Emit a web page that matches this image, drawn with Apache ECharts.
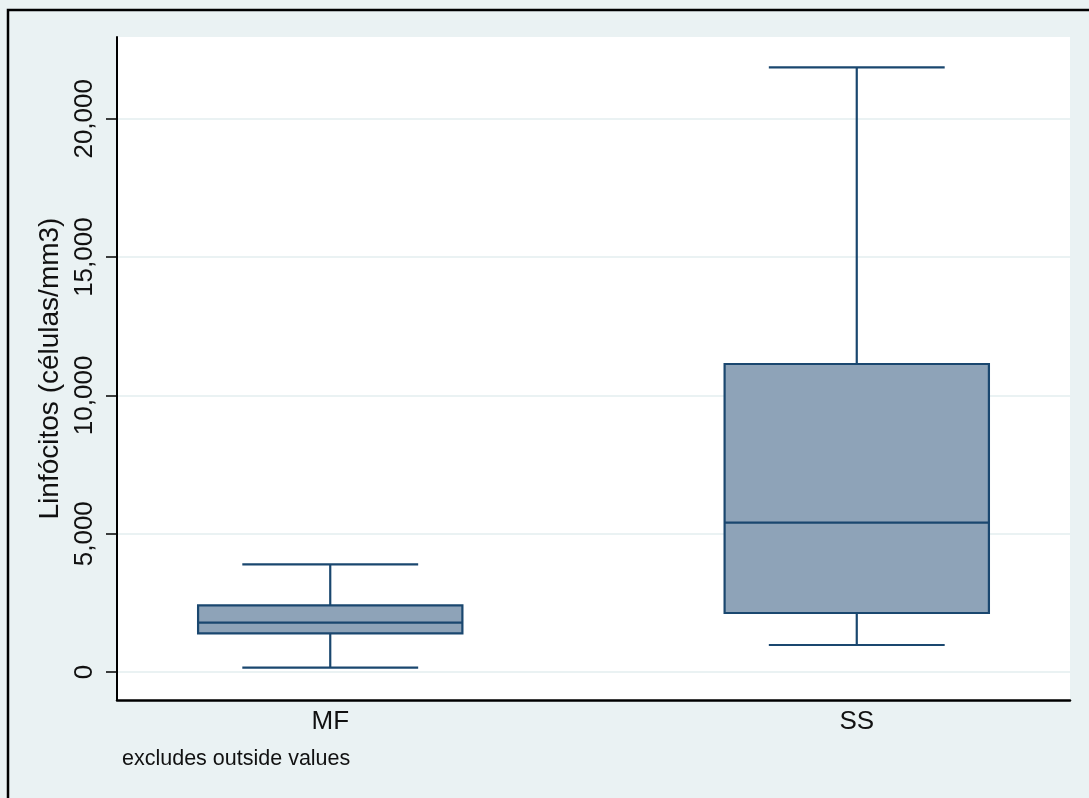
<!DOCTYPE html>
<html>
<head>
<meta charset="utf-8">
<title>Linfócitos por grupo</title>
<script src="https://cdn.jsdelivr.net/npm/echarts@6/dist/echarts.min.js"></script>
<style>
  html, body { margin: 0; padding: 0; background: #eaf2f3; }
  #chart { width: 1089px; height: 798px; }
</style>
</head>
<body>
<div id="chart"></div>
<script>
// Groups and the five-number summaries of each box (outside values excluded)
const groups = ['MF', 'SS'];
const whiskerLow = [155, 976];
const quartile1 = [1399, 2133];
const median = [1783, 5398];
const quartile3 = [2411, 11135];
const whiskerHigh = [3894, 21862];

// Y-axis tick values
const yTicks = [0, 5000, 10000, 15000, 20000];

const FONT = 'Helvetica, Arial, "Liberation Sans", sans-serif';
const NAVY = '#1a476f';
const BOX_FILL = '#8ea3b8';
const BOX_HALF = 0.251;   // half box width, in x-axis units
const CAP_HALF = 0.167;   // half whisker-cap width, in x-axis units

const boxData = groups.map((g, i) => [
  i + 1, whiskerLow[i], quartile1[i], median[i], quartile3[i], whiskerHigh[i]
]);

function renderBox(params, api) {
  const x = api.value(0);
  const lo = api.coord([x, api.value(1)]);
  const q1 = api.coord([x, api.value(2)]);
  const md = api.coord([x, api.value(3)]);
  const q3 = api.coord([x, api.value(4)]);
  const hi = api.coord([x, api.value(5)]);
  const bl = api.coord([x - BOX_HALF, 0])[0];
  const br = api.coord([x + BOX_HALF, 0])[0];
  const cl = api.coord([x - CAP_HALF, 0])[0];
  const cr = api.coord([x + CAP_HALF, 0])[0];
  const cx = lo[0];
  const line = { stroke: NAVY, lineWidth: 2.2 };
  return {
    type: 'group',
    children: [
      { type: 'line', shape: { x1: cx, y1: q3[1], x2: cx, y2: hi[1] }, style: line },
      { type: 'line', shape: { x1: cx, y1: q1[1], x2: cx, y2: lo[1] }, style: line },
      { type: 'line', shape: { x1: cl, y1: hi[1], x2: cr, y2: hi[1] }, style: line },
      { type: 'line', shape: { x1: cl, y1: lo[1], x2: cr, y2: lo[1] }, style: line },
      { type: 'rect', shape: { x: bl, y: q3[1], width: br - bl, height: q1[1] - q3[1] },
        style: { fill: BOX_FILL, stroke: NAVY, lineWidth: 2.2 } },
      { type: 'line', shape: { x1: bl, y1: md[1], x2: br, y2: md[1] }, style: line }
    ]
  };
}

const chart = echarts.init(document.getElementById('chart'), null, { renderer: 'canvas' });

chart.setOption({
  backgroundColor: '#eaf2f3',
  animation: false,
  textStyle: { fontFamily: FONT },
  grid: {
    left: 117, right: 19, top: 37, bottom: 98,
    show: true, backgroundColor: '#ffffff', borderWidth: 0
  },
  xAxis: {
    type: 'value',
    min: 0.595,
    max: 2.405,
    axisLine: { show: true, onZero: false, lineStyle: { color: '#000', width: 2.5 } },
    axisTick: { show: false },
    splitLine: { show: false },
    axisLabel: {
      customValues: groups.map((g, i) => i + 1),
      formatter: v => groups[Math.round(v) - 1] || '',
      color: '#111',
      fontSize: 26,
      fontFamily: FONT,
      margin: 9
    }
  },
  yAxis: {
    type: 'value',
    min: -1012,
    max: 22957,
    name: 'Linfócitos (células/mm3)',
    nameLocation: 'middle',
    nameRotate: 90,
    nameGap: 50,
    nameTextStyle: { color: '#111', fontSize: 28, fontFamily: FONT },
    axisLine: { show: true, onZero: false, lineStyle: { color: '#000', width: 2 } },
    axisTick: {
      show: true, inside: false, length: 11,
      customValues: yTicks,
      lineStyle: { color: '#000', width: 1.5 }
    },
    axisLabel: {
      customValues: yTicks,
      rotate: 90,
      color: '#111',
      fontSize: 26,
      fontFamily: FONT,
      margin: 19,
      formatter: v => v.toLocaleString('en-US')
    },
    splitLine: { show: true, lineStyle: { color: '#eaf2f3', width: 2 } }
  },
  graphic: [
    {
      type: 'text',
      left: 122,
      top: 748,
      style: {
        text: 'excludes outside values',
        fill: '#111',
        font: '21.5px ' + FONT
      }
    },
    {
      type: 'rect',
      shape: { x: 8, y: 10, width: 1100, height: 800 },
      style: { fill: 'none', stroke: '#000', lineWidth: 2.5 },
      silent: true
    }
  ],
  series: [
    {
      type: 'custom',
      renderItem: renderBox,
      data: boxData,
      encode: { x: 0, y: [1, 2, 3, 4, 5] },
      z: 3
    }
  ]
});
</script>
</body>
</html>
